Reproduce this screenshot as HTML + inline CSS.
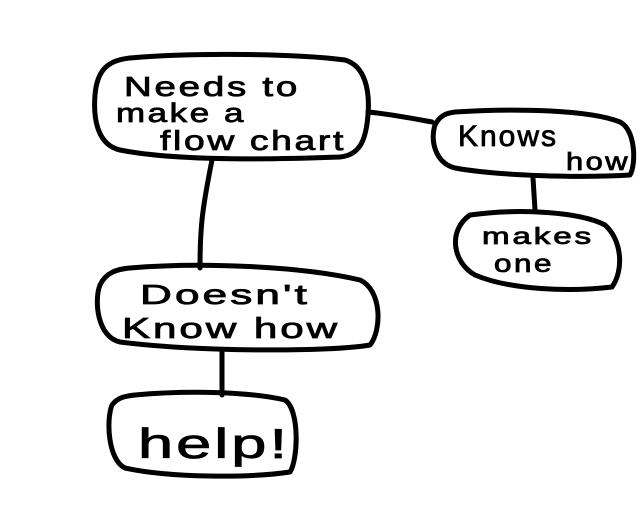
<!DOCTYPE html>
<html><head><meta charset="utf-8"><style>
html,body{margin:0;padding:0;background:#fff;}
svg{display:block;}
text{font-family:"Liberation Sans",sans-serif;fill:#000;stroke:#000;stroke-width:0.8;}
</style></head><body>
<svg width="640" height="526" viewBox="0 0 640 526" xmlns="http://www.w3.org/2000/svg">
<g fill="none" stroke="#000" stroke-width="5" stroke-linecap="round" stroke-linejoin="round">
<path d="M130,58 C200,52 300,54 345,60 C365,66 370,90 368,115 C366,140 360,155 340,157 C260,160 170,160 120,150 C98,145 93,120 95,95 C97,70 108,60 130,58 Z"/>
<path d="M455,112 C520,108 590,110 620,122 C636,130 636,165 630,175 C580,178 500,176 455,168 C435,163 430,140 435,125 C440,115 447,113 455,112 Z"/>
<path d="M470,215 C520,208 580,212 605,225 C622,240 624,270 612,287 C570,292 510,290 475,275 C452,262 448,230 470,215 Z"/>
<path d="M130,268 C200,262 300,266 360,280 C382,290 382,330 370,345 C330,352 200,352 120,342 C97,337 94,300 100,285 C106,272 118,269 130,268 Z"/>
<path d="M135,395 C190,390 250,392 285,400 C300,410 298,460 290,472 C250,478 170,478 125,468 C108,460 106,420 112,405 C118,397 126,396 135,395 Z"/>
<path d="M368,112 C390,114 410,118 432,122"/>
<path d="M212,160 C208,180 204,200 202,220 C200,240 200,255 200,268"/>
<path d="M533,178 L535,210"/>
<path d="M222,352 L222,395"/>
</g>
<g style="letter-spacing:2px">
<text x="124" y="96" font-size="28" textLength="176" lengthAdjust="spacingAndGlyphs">Needs to</text>
<text x="116" y="122" font-size="27" textLength="130" lengthAdjust="spacingAndGlyphs">make a</text>
<text x="160" y="150" font-size="28" textLength="186" lengthAdjust="spacingAndGlyphs">flow chart</text>
<text x="458" y="146" font-size="30" textLength="100" lengthAdjust="spacingAndGlyphs">Knows</text>
<text x="566" y="170" font-size="25" textLength="64" lengthAdjust="spacingAndGlyphs">how</text>
<text x="482" y="244" font-size="23" textLength="112" lengthAdjust="spacingAndGlyphs">makes</text>
<text x="494" y="272" font-size="25" textLength="60" lengthAdjust="spacingAndGlyphs">one</text>
<text x="140" y="304" font-size="28" textLength="170" lengthAdjust="spacingAndGlyphs">Doesn't</text>
<text x="122" y="338" font-size="29" textLength="218" lengthAdjust="spacingAndGlyphs">Know how</text>
<text x="138" y="458" font-size="42" textLength="152" lengthAdjust="spacingAndGlyphs">help!</text>
</g>
</svg>
</body></html>
